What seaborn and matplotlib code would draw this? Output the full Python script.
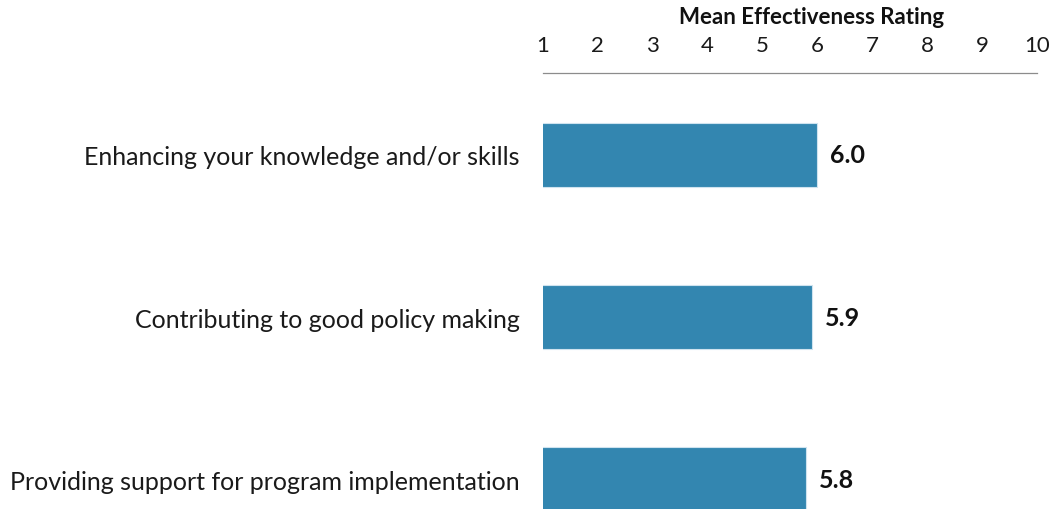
import pandas as pd
import seaborn as sns
import matplotlib.pyplot as plt

categories = ['Enhancing your knowledge and/or skills',
              'Contributing to good policy making',
              'Providing support for program implementation']
ratings = [6.0, 5.9, 5.8]
ticks = list(range(1, 11))

df = pd.DataFrame({'Item': categories, 'Rating': ratings})

sns.set_style('white')
plt.rcParams['font.family'] = ['Lato', 'DejaVu Sans']

fig = plt.figure(figsize=(10.53, 5.10), dpi=100)
ax = fig.add_axes([543 / 1053, 0.0, (1037 - 543) / 1053, 1 - 74 / 510])

sns.barplot(data=df, x='Rating', y='Item', orient='h', color='#3386b0',
            saturation=1, width=0.395, edgecolor='#cfe3ef', linewidth=0.8, ax=ax)

ax.set_xlim(1, 10)
ax.set_ylim(2.185, -0.506)
ax.set_xticks(ticks)
ax.xaxis.tick_top()
ax.tick_params(axis='x', length=0, pad=13, labelsize=16, colors='#1a1a1a')
ax.tick_params(axis='y', length=0, pad=17, labelsize=18, colors='#1a1a1a')
ax.set_xlabel('')
ax.set_ylabel('')

for s in ['bottom', 'left', 'right']:
    ax.spines[s].set_visible(False)
ax.spines['top'].set_color('#8c8c8c')
ax.spines['top'].set_linewidth(0.9)

# value labels
for i, v in enumerate(ratings):
    ax.annotate(f'{v:.1f}', xy=(v, i), xytext=(9, 0), textcoords='offset points',
                va='center', ha='left', fontsize=18, fontweight='bold', color='#111111')

fig.text(812 / 1053, 1 - 18 / 510, 'Mean Effectiveness Rating', ha='center', va='center',
         fontsize=16, fontweight='bold', color='#111111')

fig.savefig('out.png', dpi=100)
